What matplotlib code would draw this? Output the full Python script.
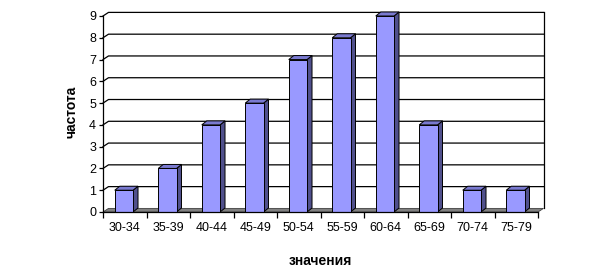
import matplotlib
matplotlib.use("Agg")
import matplotlib.pyplot as plt
from matplotlib.patches import Polygon

categories = ["30-34", "35-39", "40-44", "45-49", "50-54", "55-59", "60-64", "65-69", "70-74", "75-79"]
values = [1, 2, 4, 5, 7, 8, 9, 4, 1, 1]
yticks = list(range(0, 10))

plt.rcParams['font.family'] = ['Liberation Sans', 'DejaVu Sans']

fig = plt.figure(figsize=(6.0, 2.76), dpi=100)
ax = fig.add_axes([103/600, 1 - 212/276, 435/600, 196/276])
n = len(categories)
ax.set_xlim(-0.5, n - 0.5)
ax.set_ylim(0, 9)

# depth offsets in pixels converted to data units
fig.canvas.draw()
inv = ax.transData.inverted()
p0 = ax.transData.transform((0, 0))
pd = inv.transform((p0[0] + 5.5, p0[1] + 3.6))
ddx, ddy = pd[0], pd[1]
bdx, bdy = inv.transform((p0[0] + 5.0, p0[1] + 4.0))

lw = 0.9
x0, x1 = -0.5, n - 0.5
ymax = 9
# back wall gridlines and side wall diagonals
for y in yticks[1:]:
    ax.plot([x0, x0 + ddx, x1 + ddx], [y, y + ddy, y + ddy], color='black', lw=lw, clip_on=False, zorder=1)
# back wall right edge
ax.plot([x1 + ddx, x1 + ddx], [ddy, ymax + ddy], color='black', lw=lw, clip_on=False, zorder=1)
# floor
floor = Polygon([(x0, 0), (x1, 0), (x1 + ddx, ddy), (x0 + ddx, ddy)], closed=True,
                facecolor='#808080', edgecolor='#404040', lw=0.6, clip_on=False, zorder=2)
ax.add_patch(floor)

bw = 0.42
for i, v in enumerate(values):
    xl, xr = i - bw/2 - 0.02, i + bw/2 - 0.02
    side = Polygon([(xr, 0), (xr + bdx, bdy), (xr + bdx, v + bdy), (xr, v)], closed=True,
                   facecolor='#50508C', edgecolor='black', lw=0.7, clip_on=False, zorder=3)
    top = Polygon([(xl, v), (xr, v), (xr + bdx, v + bdy), (xl + bdx, v + bdy)], closed=True,
                  facecolor='#7A7AD0', edgecolor='black', lw=0.7, clip_on=False, zorder=3)
    ax.add_patch(side)
    ax.add_patch(top)
ax.bar([i - 0.02 for i in range(n)], values, width=bw, color='#9999FF', edgecolor='black',
       linewidth=0.7, zorder=4, clip_on=False)

for s in ['top', 'right']:
    ax.spines[s].set_visible(False)
ax.spines['left'].set_linewidth(lw)
ax.spines['bottom'].set_linewidth(lw)
ax.spines['left'].set_zorder(5)
ax.spines['bottom'].set_zorder(5)

ax.set_yticks(yticks)
ax.set_yticklabels([str(t) for t in yticks])
ax.tick_params(axis='y', direction='out', length=3, width=lw, pad=2, labelsize=9)
ax.set_xticks(range(n))
ax.set_xticklabels(categories)
ax.tick_params(axis='x', which='major', length=0, pad=7, labelsize=9)
ax.set_xticks([i - 0.5 for i in range(n + 1)], minor=True)
ax.tick_params(axis='x', which='minor', direction='out', length=4, width=lw)

fig.text(72/600, 1 - 112/276, 'частота', rotation=90, ha='center', va='center',
         fontsize=10, fontweight='bold')
fig.text(320/600, 1 - 261/276, 'значения', ha='center', va='center',
         fontsize=10, fontweight='bold')

fig.savefig('out.png', dpi=100)
